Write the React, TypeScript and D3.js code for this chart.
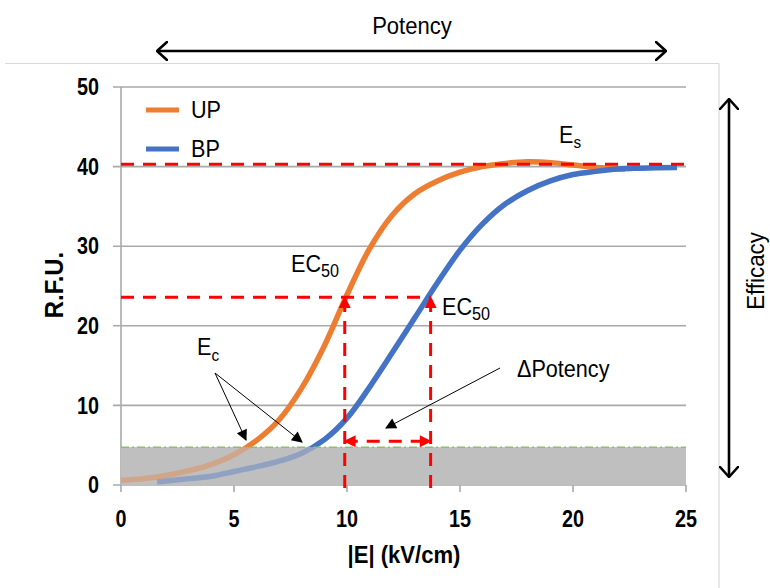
import React from 'react';
import * as d3 from 'd3';

// ---- data ----
const upX = [0, 1, 2, 3, 4, 5, 6, 7, 8, 9, 10, 11, 12, 13, 14, 15, 16, 17, 18, 19, 20, 21, 22.3];
const upY = [0.6, 0.8, 1.2, 1.8, 2.6, 3.8, 5.6, 8.2, 12.2, 17.5, 23.9, 29.7, 33.9, 36.6, 38.2, 39.3, 40.0, 40.4, 40.6, 40.5, 40.2, 39.9, 39.7];
const bpX = [1.6, 2, 3, 4, 5, 6, 7, 8, 9, 10, 11, 12, 13, 14, 15, 16, 17, 18, 19, 20, 21, 22, 23, 24.6];
const bpY = [0.4, 0.5, 0.8, 1.1, 1.7, 2.3, 3.0, 4.0, 5.7, 8.4, 12.3, 16.6, 21.0, 25.4, 29.5, 32.8, 35.3, 37.0, 38.2, 39.0, 39.4, 39.7, 39.8, 39.9];
const seriesNames = ['UP', 'BP'];
const seriesColors = ['#ed7d31', '#4472c4'];
const xTicks = [0, 5, 10, 15, 20, 25];
const yTicks = [0, 10, 20, 30, 40, 50];
const esLevel = 40.3;
const ec50Level = 23.6;
const ec50UP = 9.9;
const ec50BP = 13.7;
const baseLevel = 4.75;
const deltaLevel = 5.5;

const FONT = "'Liberation Sans', Arial, sans-serif";

type TProps = {
  x: number;
  y: number;
  size: number;
  bold?: boolean;
  anchor?: 'start' | 'middle' | 'end';
  rot?: number;
  sx?: number;
  dy?: string;
  children?: React.ReactNode;
};

function T({ x, y, size, bold, anchor = 'start', rot = 0, sx = 0.9, dy, children }: TProps) {
  return (
    <text
      transform={`translate(${x},${y}) rotate(${rot}) scale(${sx},1)`}
      textAnchor={anchor}
      fontSize={size}
      fontWeight={bold ? 'bold' : 'normal'}
      dy={dy}
      fill="#000"
    >
      {children}
    </text>
  );
}

export default function App() {
  const x = d3.scaleLinear().domain([0, 25]).range([121, 686]);
  const y = d3.scaleLinear().domain([0, 50]).range([485, 87]);
  const line = d3
    .line<[number, number]>()
    .x((d) => x(d[0]))
    .y((d) => y(d[1]))
    .curve(d3.curveCatmullRom.alpha(0.5));
  const upPath = line(upX.map((v, i) => [v, upY[i]] as [number, number])) || '';
  const bpPath = line(bpX.map((v, i) => [v, bpY[i]] as [number, number])) || '';
  const paths = [upPath, bpPath];

  const gridColor = '#a9a9a9';
  const red = '#ff0000';

  return (
    <svg
      width={770}
      height={588}
      style={{ position: 'absolute', left: 0, top: 0, background: '#fff' }}
      fontFamily={FONT}
    >
      <defs>
        <marker id="redHead" viewBox="0 0 10 10" refX="9" refY="5" markerWidth="14" markerHeight="12"
          markerUnits="userSpaceOnUse" orient="auto-start-reverse">
          <path d="M0,0 L10,5 L0,10 z" fill={red} />
        </marker>
        <marker id="blackHead" viewBox="0 0 10 10" refX="9" refY="5" markerWidth="13" markerHeight="11"
          markerUnits="userSpaceOnUse" orient="auto-start-reverse">
          <path d="M0,0 L10,5 L0,10 z" fill="#000" />
        </marker>
        <marker id="openHead" viewBox="0 0 12 20" refX="11" refY="10" markerWidth="12" markerHeight="20"
          markerUnits="userSpaceOnUse" orient="auto-start-reverse">
          <path d="M1,1 L11,10 L1,19" fill="none" stroke="#000" strokeWidth="2.6" strokeLinecap="round" strokeLinejoin="round" />
        </marker>
      </defs>

      {/* frame */}
      <line x1={5} x2={719} y1={63.5} y2={63.5} stroke="#d9d9d9" strokeWidth={1.2} />
      <line x1={719} x2={719} y1={63.5} y2={588} stroke="#d9d9d9" strokeWidth={1.2} />

      {/* gridlines */}
      {yTicks.map((t) => (
        <line key={'g' + t} x1={113} x2={x(25)} y1={y(t)} y2={y(t)} stroke={gridColor} strokeWidth={1.6} />
      ))}
      <line x1={x(0)} x2={x(0)} y1={y(50)} y2={y(0)} stroke={gridColor} strokeWidth={1.6} />
      {xTicks.map((t) => (
        <line key={'xt' + t} x1={x(t)} x2={x(t)} y1={y(0)} y2={y(0) + 7} stroke={gridColor} strokeWidth={1.6} />
      ))}

      {/* baseline band */}
      <rect x={x(0)} y={y(baseLevel)} width={x(25) - x(0)} height={y(0) - y(baseLevel)} fill="#bfbfbf" />

      {/* curves */}
      {paths.map((p, i) => (
        <path key={'c' + i} d={p} fill="none" stroke={seriesColors[i]} strokeWidth={5.5} strokeLinecap="butt" />
      ))}
      {/* band overlay fading the curves */}
      <rect x={x(0)} y={y(baseLevel)} width={x(25) - x(0)} height={y(0) - y(baseLevel)} fill="#bfbfbf" opacity={0.62} />

      {/* green dash-dot threshold */}
      <line x1={x(0)} x2={x(25)} y1={y(baseLevel)} y2={y(baseLevel)} stroke="#8cbf6a" strokeWidth={1.6} strokeDasharray="8,3,2,3" />

      {/* red dashed Es line */}
      <line x1={x(0)} x2={x(25)} y1={y(esLevel)} y2={y(esLevel)} stroke={red} strokeWidth={3} strokeDasharray="13,9" />
      {/* EC50 horizontal */}
      <line x1={x(0)} x2={x(ec50BP)} y1={y(ec50Level)} y2={y(ec50Level)} stroke={red} strokeWidth={3} strokeDasharray="13,9" />
      {/* EC50 verticals */}
      {[ec50UP, ec50BP].map((v) => (
        <line key={'v' + v} x1={x(v)} x2={x(v)} y1={y(0) + 3} y2={y(ec50Level)} stroke={red} strokeWidth={3}
          strokeDasharray="13,9" markerEnd="url(#redHead)" />
      ))}
      {/* delta potency double arrow */}
      <line x1={x(ec50UP)} x2={x(ec50BP)} y1={y(deltaLevel)} y2={y(deltaLevel)} stroke={red} strokeWidth={3}
        strokeDasharray="13,9" markerStart="url(#redHead)" markerEnd="url(#redHead)" />

      {/* axis tick labels */}
      {yTicks.map((t) => (
        <T key={'yl' + t} x={99} y={y(t)} dy="0.36em" anchor="end" bold size={23} sx={0.86}>
          {t}
        </T>
      ))}
      {xTicks.map((t) => (
        <T key={'xl' + t} x={x(t)} y={519} dy="0.36em" anchor="middle" bold size={23} sx={0.86}>
          {t}
        </T>
      ))}
      <T x={63} y={285} rot={-90} anchor="middle" bold size={26} sx={0.92}>R.F.U.</T>
      <T x={404} y={563} anchor="middle" bold size={24} sx={0.92}>|E| (kV/cm)</T>

      {/* legend */}
      {seriesNames.map((n, i) => (
        <g key={'lg' + n}>
          <line x1={146} x2={179} y1={110 + i * 39} y2={110 + i * 39} stroke={seriesColors[i]} strokeWidth={5} />
          <T x={191} y={110 + i * 39} dy="0.36em" size={23} sx={0.94}>
            {n}
          </T>
        </g>
      ))}

      {/* Potency arrow */}
      <T x={412} y={34} anchor="middle" size={24} sx={0.92}>Potency</T>
      <line x1={157} x2={666} y1={51} y2={51} stroke="#000" strokeWidth={2.6} markerStart="url(#openHead)" markerEnd="url(#openHead)" />

      {/* Efficacy arrow */}
      <line x1={729} x2={729} y1={99} y2={477} stroke="#000" strokeWidth={2.6} markerStart="url(#openHead)" markerEnd="url(#openHead)" />
      <T x={764} y={271} rot={-90} anchor="middle" size={24} sx={0.93}>Efficacy</T>

      {/* annotations */}
      <T x={559} y={143} size={24}>
        E<tspan fontSize={17} dy={5}>s</tspan>
      </T>
      <T x={291} y={272} size={24}>
        EC<tspan fontSize={18} dy={5}>50</tspan>
      </T>
      <T x={442} y={315} size={24}>
        EC<tspan fontSize={18} dy={5}>50</tspan>
      </T>
      <T x={197} y={355} size={24}>
        E<tspan fontSize={17} dy={6}>c</tspan>
      </T>
      <T x={517} y={377} size={24}>ΔPotency</T>

      <line x1={215} y1={373} x2={246} y2={440} stroke="#000" strokeWidth={1} markerEnd="url(#blackHead)" />
      <line x1={215} y1={373} x2={302} y2={442} stroke="#000" strokeWidth={1} markerEnd="url(#blackHead)" />
      <line x1={500} y1={368} x2={386} y2={428} stroke="#000" strokeWidth={1} markerEnd="url(#blackHead)" />
    </svg>
  );
}
